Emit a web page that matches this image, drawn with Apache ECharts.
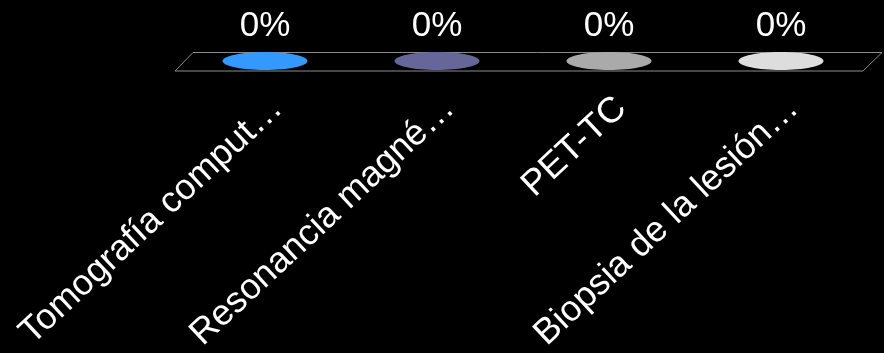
<!DOCTYPE html>
<html>
<head>
<meta charset="utf-8">
<script src="https://cdn.jsdelivr.net/npm/echarts@6/dist/echarts.min.js"></script>
<style>
html, body { margin: 0; background: #000; }
#chart { width: 884px; height: 353px; }
</style>
</head>
<body>
<div id="chart"></div>
<script>
var categories = ['Tomografía comput…', 'Resonancia magné…', 'PET-TC', 'Biopsia de la lesión…'];
var percents = [0, 0, 0, 0];
var barColors = ['#3399ff', '#666699', '#aaaaaa', '#dddddd'];

var font = "'Liberation Sans', Arial, sans-serif";
var chart = echarts.init(document.getElementById('chart'));

// flat "floor" of the 3d column chart
function renderFloor(params, api) {
    var cs = params.coordSys;
    var y0 = api.coord([0, 0])[1];
    return {
        type: 'polygon',
        shape: {
            points: [
                [cs.x + 14, y0 - 8.5],
                [cs.x + cs.width + 15, y0 - 8.5],
                [cs.x + cs.width - 4, y0 + 10],
                [cs.x - 4, y0 + 10]
            ]
        },
        style: { fill: 'none', stroke: '#8c8c8c', lineWidth: 1 }
    };
}

function renderBar(params, api) {
    var idx = params.dataIndex;
    var top = api.coord([api.value(0), api.value(1)]);
    var base = api.coord([api.value(0), 0]);
    var rx = 42.5, ry = 9;
    var color = barColors[idx];
    return {
        type: 'group',
        children: [
            {
                type: 'rect',
                shape: { x: top[0] - rx, y: top[1], width: rx * 2, height: base[1] - top[1] },
                style: { fill: color }
            },
            {
                type: 'ellipse',
                shape: { cx: top[0], cy: top[1], rx: rx, ry: ry },
                style: { fill: color }
            },
            {
                type: 'text',
                x: top[0],
                y: top[1] - 35,
                style: {
                    text: api.value(1) + '%',
                    fill: '#fff',
                    font: '35px ' + font,
                    align: 'center',
                    verticalAlign: 'middle'
                }
            }
        ]
    };
}

var option = {
    backgroundColor: '#000',
    animation: false,
    grid: { left: 179, right: 17, top: 20, bottom: 292, outerBoundsMode: 'none' },
    xAxis: {
        type: 'category',
        data: categories,
        axisLine: { show: false },
        axisTick: { show: false },
        splitLine: { show: false },
        axisLabel: {
            interval: 0,
            rotate: 43,
            margin: 29,
            verticalAlign: 'top',
            color: '#fff',
            fontSize: 36,
            fontFamily: font
        }
    },
    yAxis: { type: 'value', min: 0, max: 100, show: false },
    series: [
        {
            type: 'custom',
            renderItem: renderFloor,
            data: [[0, 0]],
            silent: true,
            z: 1
        },
        {
            type: 'custom',
            renderItem: renderBar,
            encode: { x: 0, y: 1 },
            data: percents.map(function (v, i) { return [i, v]; }),
            z: 2
        }
    ]
};

chart.setOption(option);
</script>
</body>
</html>
